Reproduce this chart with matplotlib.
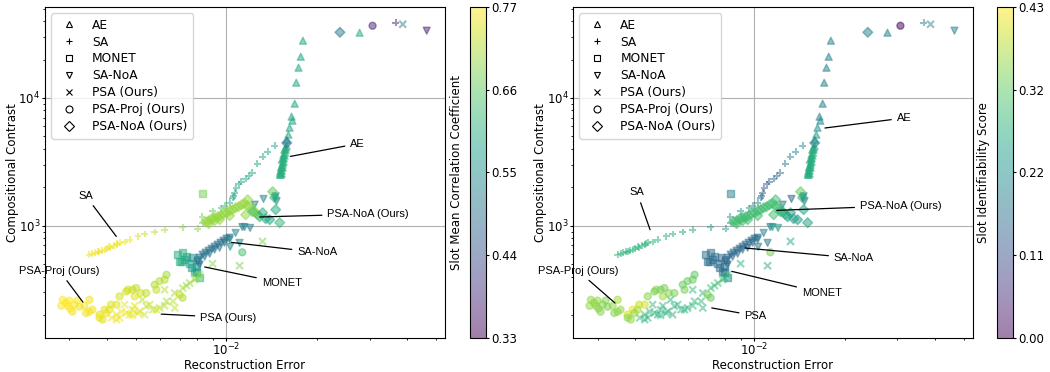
import matplotlib
matplotlib.use("Agg")
import matplotlib.pyplot as plt
from matplotlib.lines import Line2D

plt.rcParams["font.size"] = 8.5
plt.rcParams["xtick.major.size"] = 2.0
plt.rcParams["ytick.major.size"] = 2.0
plt.rcParams["xtick.minor.size"] = 1.2
plt.rcParams["ytick.minor.size"] = 1.2
plt.rcParams["xtick.major.pad"] = 0.5
plt.rcParams["ytick.major.pad"] = 1.5
plt.rcParams["xtick.minor.pad"] = 0.5
plt.rcParams["ytick.minor.pad"] = 1.5

# ---- data (reconstruction error, compositional contrast, scores) ----
ae_err = [0.0180, 0.0177, 0.0174, 0.0171, 0.0169, 0.0165, 0.0166, 0.01625, 0.0161, 0.0159,
          0.0159, 0.01576, 0.0157, 0.01564, 0.0155, 0.01552, 0.0154, 0.01541, 0.0153, 0.01529,
          0.01517, 0.0151, 0.0152, 0.0153, 0.0155, 0.0156, 0.01552, 0.01541, 0.01529, 0.01517,
          0.0151, 0.01576, 0.0278]
ae_cc = [28100, 21050, 17270, 13180, 9025, 7139, 6641, 5853, 5160, 4714,
         4190, 3937, 3730, 3540, 3350, 3170, 3000, 2846, 2700, 2555,
         2508, 2600, 2846, 3287, 3597, 3937, 3400, 3114, 2900, 2700,
         2508, 4070, 32450]
ae_mcc = [0.59] * 10 + [0.61] * 22 + [0.60]
ae_ident = [0.19, 0.19, 0.19, 0.19, 0.19, 0.20, 0.20, 0.22, 0.24, 0.25] + [0.27] * 22 + [0.19]

sa_err = [0.0367,
          0.0145, 0.01373, 0.0132, 0.0127, 0.0122, 0.0119, 0.0116, 0.0112, 0.0110, 0.0108, 0.01066, 0.0106, 0.0105,
          0.01026, 0.00987, 0.0096, 0.0090, 0.0083, 0.00835, 0.00802, 0.00715,
          0.00623, 0.00577, 0.00534, 0.00508, 0.00476, 0.00458,
          0.00441, 0.00431, 0.00421, 0.00411, 0.00401, 0.00393, 0.00384, 0.00374, 0.00366, 0.00358,
          0.0035, 0.00408, 0.00378, 0.00434]
sa_cc = [38900,
         4231, 3797, 3470, 3058, 2600, 2460, 2333, 2211, 2120, 1970, 1813, 1700, 1650,
         1514, 1434, 1375, 1300, 1180, 1050, 947, 970,
         930, 893, 861, 825, 777, 745,
         733, 710, 697, 672, 660, 649, 637, 626, 615, 603,
         593, 685, 626, 723]
sa_mcc = ([0.374] + [0.59] * 13 + [0.61, 0.63, 0.64, 0.66, 0.68, 0.68, 0.69, 0.69]
          + [0.71, 0.72, 0.73, 0.74, 0.75, 0.75] + [0.76] * 14)
sa_ident = ([0.19] + [0.21, 0.20, 0.19, 0.18, 0.16, 0.15, 0.14, 0.13, 0.13, 0.13, 0.14, 0.15, 0.16]
            + [0.20, 0.21, 0.22, 0.22, 0.23, 0.23, 0.24, 0.24]
            + [0.25, 0.25, 0.26, 0.26, 0.27, 0.27] + [0.28] * 14)

mo_err = [0.00832, 0.00689, 0.00708, 0.00736, 0.00755, 0.00774, 0.00794, 0.00784, 0.00794, 0.00815,
          0.00715, 0.00765, 0.00802, 0.00699, 0.00726]
mo_cc = [1781, 593, 526, 575, 510, 560, 482, 440, 427, 390, 612, 469, 542, 523, 542]
mo_mcc = [0.68, 0.60, 0.59, 0.57, 0.58, 0.55, 0.56, 0.60, 0.58, 0.62, 0.61, 0.57, 0.54, 0.61, 0.59]
mo_ident = [0.19, 0.15, 0.15, 0.16, 0.15, 0.14, 0.15, 0.16, 0.17, 0.20, 0.15, 0.15, 0.14, 0.16, 0.15]

sn_err = [0.0465, 0.00802, 0.00815, 0.00834, 0.00853, 0.00873, 0.00893, 0.00914, 0.00935, 0.00957,
          0.00979, 0.01002, 0.01026, 0.00847, 0.0088, 0.00914, 0.0095, 0.00815, 0.00987,
          0.01243, 0.0146, 0.0147, 0.0145, 0.0133, 0.0115, 0.0120, 0.01074, 0.01026, 0.0103, 0.01107, 0.0113]
sn_cc = [33650, 523, 562, 593, 615, 637, 660, 685, 710, 736,
         763, 791, 805, 572, 603, 649, 672, 495, 736,
         1460, 1700, 1550, 1650, 1620, 975, 960, 877, 777, 683, 733, 975]
sn_mcc = [0.374] + [0.50] * 18 + [0.52, 0.55, 0.55, 0.54, 0.53, 0.52, 0.52, 0.53, 0.54, 0.55, 0.54, 0.52]
sn_ident = [0.19] + [0.15] * 18 + [0.17, 0.19, 0.18, 0.18, 0.13, 0.24, 0.24, 0.19, 0.17, 0.18, 0.17, 0.19]

psa_err = [0.0387, 0.0132, 0.01107, 0.0090, 0.00815, 0.00784, 0.00737, 0.00755, 0.00794, 0.00716,
           0.00673, 0.00623, 0.00632, 0.00665, 0.00673, 0.00623, 0.00599, 0.0057, 0.00541, 0.00555,
           0.00525, 0.00514, 0.00585, 0.00487, 0.00508, 0.00487, 0.00464, 0.00441, 0.00431, 0.00431,
           0.00458, 0.00476, 0.00448, 0.00415, 0.00534, 0.00495]
psa_cc = [37800, 753, 486, 504, 413, 378, 339, 356, 390, 325,
          297, 315, 256, 256, 227, 236, 227, 220, 234, 241,
          263, 213, 220, 220, 207, 199, 207, 190, 201, 184,
          241, 201, 212, 190, 201, 236]
psa_mcc = ([0.506, 0.68, 0.68, 0.69, 0.70, 0.70, 0.70, 0.70, 0.70, 0.71,
            0.71, 0.72, 0.71, 0.72, 0.73, 0.72, 0.72, 0.72, 0.73, 0.73,
            0.72, 0.74, 0.74, 0.74, 0.75, 0.75, 0.76, 0.76, 0.76, 0.76,
            0.75, 0.75, 0.76, 0.76, 0.74, 0.75])
psa_ident = ([0.19, 0.24, 0.26, 0.27, 0.30, 0.30, 0.30, 0.29, 0.28, 0.29,
              0.28, 0.28, 0.29, 0.28, 0.28, 0.28, 0.27, 0.28, 0.27, 0.28,
              0.27, 0.28, 0.27, 0.28, 0.28, 0.27, 0.28, 0.28, 0.29, 0.28,
              0.28, 0.27, 0.28, 0.29, 0.27, 0.28])

pp_err = [0.0307, 0.0113, 0.00285, 0.00292, 0.0030, 0.00307, 0.00296, 0.00312, 0.00324, 0.00341,
          0.00337, 0.0035, 0.0035, 0.00358, 0.00378, 0.00378, 0.00387, 0.00393, 0.00398, 0.00408,
          0.00413, 0.00431, 0.00441, 0.00464, 0.0047, 0.00487, 0.00495, 0.00501, 0.00518, 0.00541,
          0.00577, 0.00585, 0.00599, 0.00623, 0.00632, 0.00699, 0.00715, 0.00282, 0.00319, 0.00302]
pp_cc = [36800, 619, 263, 249, 259, 212, 236, 241, 232, 207,
         236, 263, 212, 220, 201, 190, 184, 220, 207, 220,
         241, 241, 280, 305, 315, 315, 280, 325, 297, 297,
         345, 315, 368, 378, 413, 288, 273, 236, 259, 224]
pp_mcc = ([0.374, 0.64, 0.77, 0.77, 0.77, 0.76, 0.77, 0.77, 0.76, 0.76,
           0.76, 0.76, 0.76, 0.76, 0.75, 0.76, 0.75, 0.75, 0.76, 0.75,
           0.75, 0.75, 0.74, 0.74, 0.74, 0.73, 0.75, 0.73, 0.74, 0.73,
           0.72, 0.73, 0.72, 0.72, 0.71, 0.73, 0.72, 0.77, 0.77, 0.77])
pp_ident = ([0.0, 0.34, 0.36, 0.35, 0.36, 0.35, 0.36, 0.35, 0.34, 0.35,
             0.36, 0.37, 0.35, 0.36, 0.40, 0.35, 0.36, 0.41, 0.36, 0.37,
             0.39, 0.40, 0.35, 0.34, 0.35, 0.34, 0.37, 0.34, 0.35, 0.34,
             0.33, 0.34, 0.33, 0.33, 0.32, 0.34, 0.33, 0.36, 0.35, 0.35])

pn_err = [0.0239, 0.0159, 0.00853, 0.00873, 0.00893, 0.00914, 0.00935, 0.00957, 0.00979, 0.01002,
          0.01026, 0.0105, 0.01074, 0.01099, 0.01124, 0.01151, 0.01178, 0.01214, 0.01243, 0.01271,
          0.01178, 0.0116, 0.00873, 0.0095, 0.01026, 0.00914,
          0.01291, 0.01352, 0.01394, 0.0146, 0.01426, 0.01449, 0.01506, 0.01224, 0.01321]
pn_cc = [32700, 4450, 1075, 1094, 1134, 1155, 1176, 1198, 1242, 1264,
         1311, 1335, 1384, 1409, 1460, 1487, 1434, 1359, 1287, 1219,
         1598, 1219, 1037, 1114, 1198, 1094,
         1176, 1134, 1114, 1335, 1846, 1657, 1056, 1287, 1264]
pn_mcc = [0.506, 0.484] + [0.70] * 24 + [0.62, 0.60, 0.59, 0.60, 0.66, 0.62, 0.62, 0.64, 0.61]
pn_ident = [0.19, 0.19] + [0.30] * 24 + [0.25, 0.24, 0.24, 0.25, 0.32, 0.28, 0.25, 0.27, 0.25]

names = ["AE", "SA", "MONET", "SA-NoA", "PSA (Ours)", "PSA-Proj (Ours)", "PSA-NoA (Ours)"]
markers = ["^", "+", "s", "v", "x", "o", "D"]
errs = [ae_err, sa_err, mo_err, sn_err, psa_err, pp_err, pn_err]
ccs = [ae_cc, sa_cc, mo_cc, sn_cc, psa_cc, pp_cc, pn_cc]
mccs = [ae_mcc, sa_mcc, mo_mcc, sn_mcc, psa_mcc, pp_mcc, pn_mcc]
idents = [ae_ident, sa_ident, mo_ident, sn_ident, psa_ident, pp_ident, pn_ident]

mcc_ticks = [0.33, 0.44, 0.55, 0.66, 0.77]
ident_ticks = [0.0, 0.1075, 0.215, 0.3225, 0.43]
ident_labels = ["0.00", "0.11", "0.22", "0.32", "0.43"]

# annotation positions: (label, point, text position)
left_notes = [
    ("AE", (0.01634, 3488), (0.0274, 4386)),
    ("SA", (0.0043, 824), (0.0034, 1718)),
    ("PSA-NoA (Ours)", (0.01291, 1170), (0.0297, 1235)),
    ("SA-NoA", (0.0104, 740), (0.0201, 618)),
    ("MONET", (0.00847, 475), (0.01529, 356)),
    ("PSA (Ours)", (0.00607, 203), (0.01016, 191)),
    ("PSA-Proj (Ours)", (0.00333, 252), (0.00278, 444)),
]
right_notes = [
    ("AE", (0.0172, 5821), (0.0316, 6970)),
    ("SA", (0.00449, 930), (0.00406, 1823)),
    ("PSA-NoA (Ours)", (0.01188, 1318), (0.0308, 1434)),
    ("SA-NoA", (0.00931, 669), (0.0215, 558)),
    ("MONET", (0.00841, 439), (0.0168, 297)),
    ("PSA", (0.00721, 227), (0.01009, 197)),
    ("PSA-Proj (Ours)", (0.00343, 248), (0.00258, 444)),
]

fig = plt.figure(figsize=(10.5, 3.72), dpi=100)
ax1 = fig.add_axes([0.0429, 0.0914, 0.3809, 0.8898])
cax1 = fig.add_axes([0.4476, 0.0914, 0.0153, 0.8898])
ax2 = fig.add_axes([0.5460, 0.0914, 0.3804, 0.8898])
cax2 = fig.add_axes([0.9495, 0.0914, 0.0153, 0.8898])

panels = [
    (ax1, cax1, mccs, 0.33, 0.77, mcc_ticks, ["0.33", "0.44", "0.55", "0.66", "0.77"],
     "Slot Mean Correlation Coefficient", left_notes),
    (ax2, cax2, idents, 0.0, 0.43, ident_ticks, ident_labels,
     "Slot Identifiability Score", right_notes),
]

for ax, cax, cols, vmin, vmax, ticks, labels, clabel, notes in panels:
    for err, cc, col, m in zip(errs, ccs, cols, markers):
        sc = ax.scatter(err, cc, c=col, marker=m, cmap="viridis", vmin=vmin, vmax=vmax,
                        alpha=0.5, s=25, zorder=2)
    ax.set_xscale("log")
    ax.set_yscale("log")
    ax.set_xlim(2.49e-3, 5.35e-2)
    ax.set_ylim(132, 51600)
    ax.grid(True, which="major", color="#b0b0b0", lw=0.8, zorder=0)
    ax.set_axisbelow(True)
    ax.set_xlabel("Reconstruction Error", labelpad=0.5)
    ax.set_ylabel("Compositional Contrast", labelpad=-0.5)

    handles = [Line2D([], [], marker=m, color="k", markerfacecolor="none", linestyle="None",
                      markersize=5, markeredgewidth=0.8) for m in markers]
    ax.legend(handles, names, loc="upper left", fontsize=8.8, labelspacing=0.32,
              borderpad=0.45, handletextpad=0.9)

    for label, xy, xyt in notes:
        ax.annotate(label, xy=xy, xytext=xyt, ha="center", va="center", fontsize=8,
                    family="Liberation Sans",
                    arrowprops=dict(arrowstyle="-", color="k", lw=0.9, shrinkA=2, shrinkB=0))

    cb = fig.colorbar(sc, cax=cax)
    cb.set_ticks(ticks)
    cb.set_ticklabels(labels)
    cb.set_label(clabel, labelpad=5)
    cb.ax.yaxis.set_label_position("left")

fig.savefig("out.png", dpi=100)
